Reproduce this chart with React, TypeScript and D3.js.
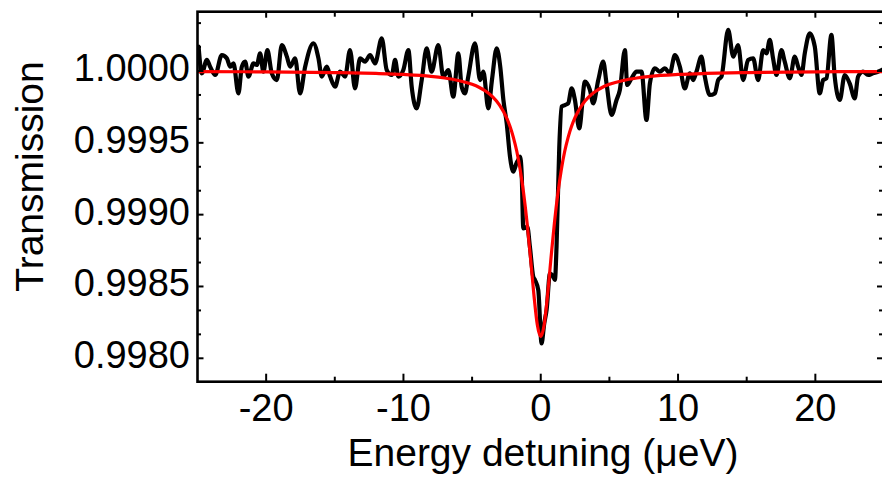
import React from "react";
import * as d3 from "d3";

// Measured transmission (black trace)
const dataX = [
  -24.92, -24.68, -24.32, -24.08, -23.71, -23.23, -22.86, -22.62, -22.38, -22.02,
  -21.77, -21.53, -21.29, -20.92, -20.68, -20.44, -20.2, -19.91, -19.59, -19.22,
  -18.86, -18.49, -18.25, -17.89, -17.53, -17.16, -16.56, -16.19, -15.95, -15.58,
  -15.34, -14.98, -14.62, -14.25, -13.89, -13.53, -13.16, -12.8, -12.43, -12.07,
  -11.58, -11.22, -10.85, -10.61, -10.37, -10.01, -9.64, -9.4, -9.04, -8.67,
  -8.31, -7.95, -7.46, -7.1, -6.73, -6.37, -6.0, -5.76, -5.52, -5.28,
  -4.79, -4.42, -4.18, -3.82, -3.55, -3.21, -2.95, -2.72, -2.48, -2.24,
  -2.0, -1.76, -1.64, -1.51, -1.39, -1.27, -1.1, -0.98, -0.79, -0.55,
  -0.42, -0.18, 0.06, 0.25, 0.43, 0.67, 0.9, 1.03, 1.15, 1.35,
  1.52, 1.76, 2.0, 2.25, 2.49, 2.8, 3.22, 3.58, 3.82, 4.19,
  4.55, 4.79, 5.16, 5.52, 5.76, 6.13, 6.3, 6.61, 6.98, 7.34,
  7.7, 7.95, 8.31, 8.68, 9.04, 9.4, 9.77, 10.13, 10.49, 10.86,
  11.1, 11.34, 11.7, 11.95, 12.31, 12.68, 12.92, 13.16, 13.65, 14.02,
  14.37, 14.74, 15.1, 15.47, 15.83, 16.2, 16.44, 16.68, 16.92, 17.17,
  17.53, 17.77, 18.14, 18.5, 18.75, 18.99, 19.23, 19.59, 19.96, 20.32,
  20.57, 20.81, 21.17, 21.41, 21.78, 22.14, 22.5, 22.87, 23.11, 23.47,
  23.84, 24.2, 24.56, 24.9,
];
const dataT = [
  1.000169, 0.999984, 1.000077, 1.00003, 0.999972, 1.000111, 1.000088, 1.00003, 1.000053, 0.999844,
  1.00003, 1.000065, 0.999961, 1.000053, 1.000042, 1.000123, 0.999995, 1.000146, 0.999984, 0.999937,
  1.000181, 1.0001, 1.00003, 1.000088, 0.999844, 1.00003, 1.000193, 1.000088, 0.999961, 1.00003,
  0.999961, 0.999891, 0.999995, 0.999961, 1.000146, 0.999879, 1.000088, 1.000065, 1.000111, 1.000053,
  1.000227, 1.000007, 0.999972, 1.000077, 0.999961, 1.000007, 1.000146, 0.999891, 0.99974, 0.999937,
  1.000158, 0.999995, 1.000181, 0.999961, 1.000007, 0.999821, 1.000123, 0.999891, 0.999844, 0.999961,
  1.000193, 0.999937, 0.999995, 0.99974, 0.99994, 1.000158, 1.00003, 0.999798, 0.999636, 0.999404,
  0.999299, 0.99936, 0.99938, 0.999404, 0.999287, 0.998904, 0.99891, 0.998916, 0.998777, 0.99857,
  0.998545, 0.998475, 0.998104, 0.99824, 0.99834, 0.99859, 0.99857, 0.998545, 0.998777, 0.999473,
  0.999752, 0.999763, 0.999775, 0.999879, 0.999798, 0.999601, 0.999926, 0.999868, 0.999775, 0.999937,
  1.000065, 0.999914, 0.999694, 0.999798, 0.999868, 1.000146, 0.999903, 0.999949, 0.999995, 0.999995,
  0.999659, 0.999914, 1.000019, 0.999995, 1.000019, 0.999984, 1.000111, 1.00003, 0.999879, 0.999984,
  0.999937, 0.999995, 1.0001, 0.999961, 0.999833, 0.999844, 0.999937, 0.999961, 1.000286, 1.0001,
  1.000181, 0.999937, 1.000077, 1.000088, 0.999937, 1.000146, 1.000123, 1.000216, 1.000088, 0.999972,
  1.000146, 1.000065, 0.999949, 1.0001, 1.00003, 0.999972, 1.000123, 1.000262, 1.000169, 0.999844,
  0.999937, 0.999949, 1.000251, 0.999961, 0.999798, 0.999972, 0.999914, 0.99981, 0.999961, 0.999995,
  0.999972, 0.999984, 0.999995, 1.00001,
];

// Fitted curve (red)
const fitX = [
  -25, -20, -15, -12, -10, -8, -7, -6, -5, -4.5, -4, -3.5, -3, -2.5, -2.25, -2, -1.75, -1.5,
  -1.25, -1, -0.75, -0.5, -0.25, 0, 0.25, 0.5, 0.75, 1, 1.25, 1.5, 1.75, 2, 2.25, 2.5, 3,
  3.5, 4, 4.5, 5, 6, 7, 8, 10, 12, 15, 20, 25,
];
const fitT = [
  0.999996, 0.999994, 0.999989, 0.999983, 0.999976, 0.999963, 0.999951, 0.999934, 0.999907,
  0.999887, 0.999859, 0.99982, 0.999763, 0.999677, 0.999617, 0.99954, 0.999443, 0.999315,
  0.999151, 0.998946, 0.998702, 0.998444, 0.998233, 0.99815, 0.998233, 0.998444, 0.998702,
  0.998946, 0.999151, 0.999315, 0.999443, 0.99954, 0.999617, 0.999677, 0.999763, 0.99982,
  0.999859, 0.999887, 0.999907, 0.999934, 0.999951, 0.999963, 0.999976, 0.999983, 0.999989,
  0.999994, 0.999996,
];

const xMajorTicks = [-20, -10, 0, 10, 20];
const xMinorTicks = [-15, -5, 5, 15];
const yMajorTicks = [0.998, 0.9985, 0.999, 0.9995, 1.0];
const yTickLabels = ["0.9980", "0.9985", "0.9990", "0.9995", "1.0000"];

const W = 882;
const H = 483;
const left = 197.5;
const right = 884;
const top = 11.7;
const bottom = 381.7;

export default function App() {
  const x = d3.scaleLinear().domain([-25, 25]).range([left, right]);
  const y = d3.scaleLinear().domain([0.998, 1.0]).range([358.3, 71]);

  const yMinor: number[] = [];
  const step = 0.0005 / 3;
  for (let k = -2; k <= 14; k++) {
    const v = 0.998 + k * step;
    const py = y(v);
    if (py > top + 3 && py < bottom - 3 && k % 3 !== 0) yMinor.push(v);
  }

  const dataPts = dataX.map((d, i) => [d, dataT[i]] as [number, number]);
  const fitPts = fitX.map((d, i) => [d, fitT[i]] as [number, number]);
  const line = d3
    .line<[number, number]>()
    .x((d) => x(d[0]))
    .y((d) => y(d[1]))
    .curve(d3.curveMonotoneX);
  const fitLine = d3
    .line<[number, number]>()
    .x((d) => x(d[0]))
    .y((d) => y(d[1]))
    .curve(d3.curveMonotoneX);

  const font = "'Liberation Sans', Arial, sans-serif";

  return (
    <svg
      width={W}
      height={H}
      style={{ position: "absolute", left: 0, top: 0, display: "block", background: "#fff" }}
    >
      <defs>
        <clipPath id="plotClip">
          <rect x={left} y={top} width={right - left} height={bottom - top} />
        </clipPath>
      </defs>
      <g clipPath="url(#plotClip)">
        <path
          d={line(dataPts) || ""}
          fill="none"
          stroke="#000"
          strokeWidth={4.2}
          strokeLinejoin="round"
          strokeLinecap="round"
        />
        <path d={fitLine(fitPts) || ""} fill="none" stroke="#ff0000" strokeWidth={3.2} />
      </g>
      {/* frame */}
      <rect x={left} y={top} width={right - left} height={bottom - top} fill="none" stroke="#000" strokeWidth={2.6} />
      {/* x ticks */}
      {xMajorTicks.map((t) => (
        <g key={"xM" + t}>
          <line x1={x(t)} x2={x(t)} y1={bottom} y2={bottom - 8} stroke="#000" strokeWidth={2} />
          <line x1={x(t)} x2={x(t)} y1={top} y2={top + 6} stroke="#000" strokeWidth={2} />
          <text x={x(t)} y={420.7} textAnchor="middle" fontFamily={font} fontSize={38} fill="#000">
            {t}
          </text>
        </g>
      ))}
      {xMinorTicks.map((t) => (
        <g key={"xm" + t}>
          <line x1={x(t)} x2={x(t)} y1={bottom} y2={bottom - 5} stroke="#000" strokeWidth={2} />
          <line x1={x(t)} x2={x(t)} y1={top} y2={top + 5} stroke="#000" strokeWidth={2} />
        </g>
      ))}
      {/* y ticks */}
      {yMajorTicks.map((t, i) => (
        <g key={"yM" + t}>
          <line x1={left} x2={left + 6} y1={y(t)} y2={y(t)} stroke="#000" strokeWidth={2} />
          <line x1={right} x2={right - 7} y1={y(t)} y2={y(t)} stroke="#000" strokeWidth={2} />
          <text x={190} y={y(t) + 10} textAnchor="end" fontFamily={font} fontSize={38} fill="#000">
            {yTickLabels[i]}
          </text>
        </g>
      ))}
      {yMinor.map((t) => (
        <g key={"ym" + t}>
          <line x1={left} x2={left + 3.5} y1={y(t)} y2={y(t)} stroke="#000" strokeWidth={2} />
          <line x1={right} x2={right - 5} y1={y(t)} y2={y(t)} stroke="#000" strokeWidth={2} />
        </g>
      ))}
      {/* axis titles */}
      <text x={543} y={466} textAnchor="middle" fontFamily={font} fontSize={39} fill="#000">
        Energy detuning (μeV)
      </text>
      <text
        transform="translate(43,176.5) rotate(-90)"
        textAnchor="middle"
        fontFamily={font}
        fontSize={39}
        fill="#000"
      >
        Transmission
      </text>
    </svg>
  );
}
